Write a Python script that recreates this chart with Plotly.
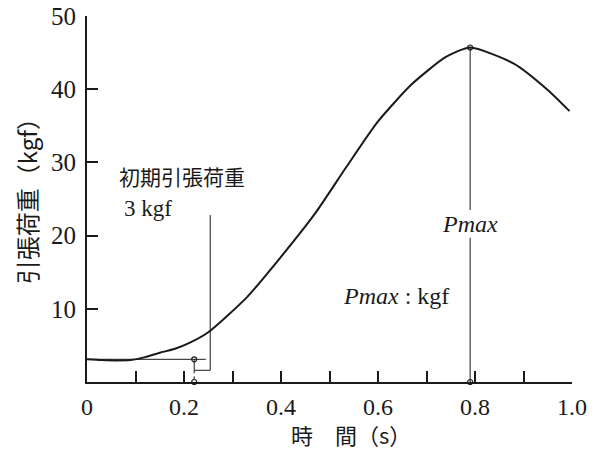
import plotly.graph_objects as go

# Data
time_s = [0.0, 0.03, 0.06, 0.09, 0.12, 0.15, 0.18, 0.21, 0.25, 0.33, 0.40, 0.47,
          0.535, 0.60, 0.67, 0.74, 0.79, 0.88, 0.95, 0.995]
load_kgf = [3.1, 3.0, 2.95, 3.0, 3.4, 4.0, 4.5, 5.3, 6.8, 11.6, 17.1, 23.0,
            29.4, 35.6, 40.7, 44.4, 45.7, 43.5, 39.9, 37.0]

x_tickvals = [0, 0.1, 0.2, 0.3, 0.4, 0.5, 0.6, 0.7, 0.8, 0.9, 1.0]
x_ticktext = ["0", "", "0.2", "", "0.4", "", "0.6", "", "0.8", "", "1.0"]
y_tickvals = [10, 20, 30, 40, 50]
y_ticktext = ["10", "20", "30", "40", "50"]

# Annotation values
init_load = 3.1
init_time = 0.221
bracket_low = 1.6
bracket_time = 0.254
bracket_top = 22.8
init_line_end = 0.245
pmax_time = 0.79
pmax_value = 45.7
pmax_gap_top = 23.5
pmax_gap_bottom = 19.7

SERIF = "Liberation Serif"
CJK = "Noto Sans CJK JP"
INK = "#1a1a1a"

fig = go.Figure()

fig.add_trace(go.Scatter(x=time_s, y=load_kgf, mode="lines",
                         line=dict(color=INK, width=2, shape="spline", smoothing=0.6),
                         hoverinfo="skip", showlegend=False))

thin = dict(color=INK, width=1)
# Initial load guide lines
fig.add_trace(go.Scatter(x=[0, init_line_end], y=[init_load, init_load], mode="lines",
                         line=thin, showlegend=False, hoverinfo="skip"))
fig.add_trace(go.Scatter(x=[init_time, init_time, bracket_time, bracket_time],
                         y=[init_load, bracket_low, bracket_low, bracket_top], mode="lines",
                         line=thin, showlegend=False, hoverinfo="skip"))
fig.add_trace(go.Scatter(x=[init_time, init_time], y=[bracket_low, 0], mode="lines",
                         line=dict(color=INK, width=1, dash="dot"), showlegend=False, hoverinfo="skip"))
# Pmax guide lines
fig.add_trace(go.Scatter(x=[pmax_time, pmax_time], y=[pmax_value, pmax_gap_top], mode="lines",
                         line=thin, showlegend=False, hoverinfo="skip"))
fig.add_trace(go.Scatter(x=[pmax_time, pmax_time], y=[pmax_gap_bottom, 0], mode="lines",
                         line=thin, showlegend=False, hoverinfo="skip"))
# Small open circles
fig.add_trace(go.Scatter(x=[init_time, init_time, pmax_time, pmax_time],
                         y=[init_load, 0, pmax_value, 0], mode="markers",
                         marker=dict(symbol="circle-open", size=5, color=INK, line=dict(width=1.2)),
                         showlegend=False, hoverinfo="skip", cliponaxis=False))

fig.add_annotation(x=0.062, y=28.2, xref="x", yref="y", text="初期引張荷重",
                   showarrow=False, xanchor="left", yanchor="middle",
                   font=dict(family=CJK, size=21, color=INK))
fig.add_annotation(x=0.072, y=23.7, xref="x", yref="y", text="3 kgf",
                   showarrow=False, xanchor="left", yanchor="middle",
                   font=dict(family=SERIF, size=23, color=INK))
fig.add_annotation(x=pmax_time, y=21.6, xref="x", yref="y", text="<i>Pmax</i>",
                   showarrow=False, xanchor="center", yanchor="middle",
                   font=dict(family=SERIF, size=24, color=INK))
fig.add_annotation(x=0.637, y=11.7, xref="x", yref="y", text="<i>Pmax</i> : kgf",
                   showarrow=False, xanchor="center", yanchor="middle",
                   font=dict(family=SERIF, size=24, color=INK))

# Axis titles
fig.add_annotation(x=0.545, y=-0.192, xref="paper", yref="paper", text="時　間（s）",
                   showarrow=False, xanchor="center", yanchor="bottom",
                   font=dict(family=CJK, size=22, color=INK))
fig.add_annotation(x=-0.126, y=0.51, xref="paper", yref="paper", text="引張荷重（kgf）",
                   showarrow=False, xanchor="center", yanchor="middle", textangle=-90,
                   font=dict(family=CJK, size=24, color=INK))

fig.update_xaxes(range=[0, 1.0], tickvals=x_tickvals, ticktext=x_ticktext,
                 ticks="inside", ticklen=11, tickwidth=2, tickcolor=INK,
                 showline=True, linewidth=2, linecolor=INK, showgrid=False, zeroline=False,
                 tickfont=dict(family=SERIF, size=24, color=INK), ticklabelstandoff=2,
                 automargin=False)
fig.update_yaxes(range=[0, 50], tickvals=y_tickvals, ticktext=y_ticktext,
                 ticks="inside", ticklen=11, tickwidth=2, tickcolor=INK,
                 showline=True, linewidth=2, linecolor=INK, showgrid=False, zeroline=False,
                 tickfont=dict(family=SERIF, size=25, color=INK), ticklabelstandoff=4,
                 automargin=False)

fig.update_layout(width=599, height=454, autosize=False,
                  margin=dict(l=87, r=27, t=16, b=72),
                  paper_bgcolor="white", plot_bgcolor="white", showlegend=False)

fig.write_html("out.html", config={"displayModeBar": False},
               post_script="document.body.style.margin='0';document.body.style.overflow='hidden';")
